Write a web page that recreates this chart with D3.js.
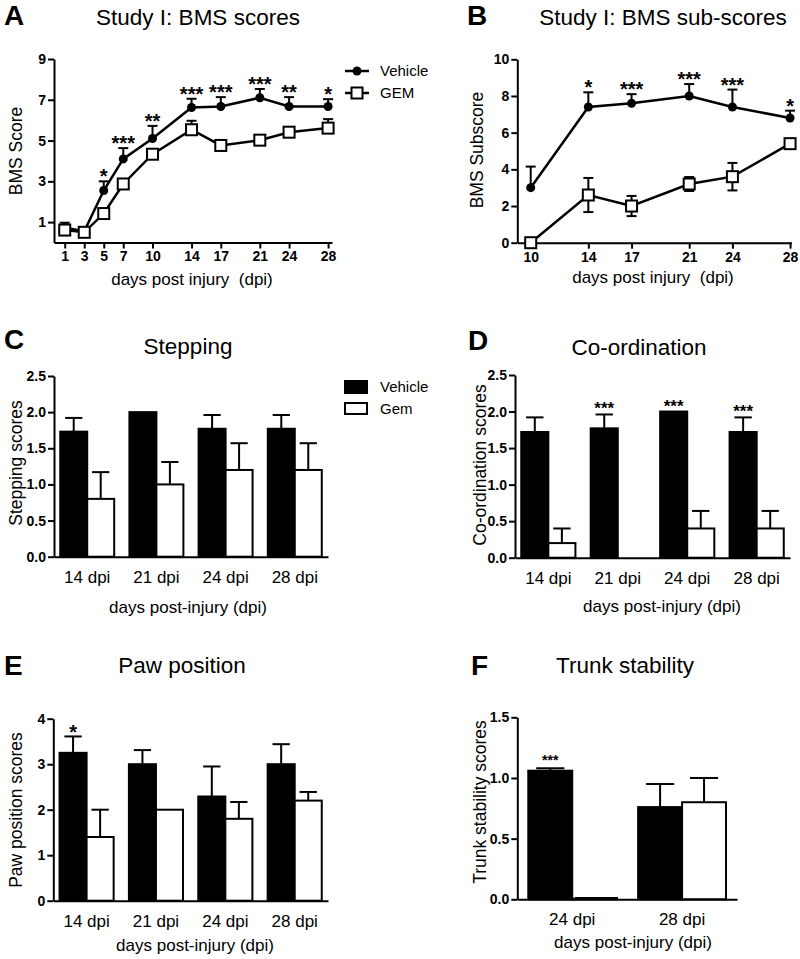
<!DOCTYPE html>
<html>
<head>
<meta charset="utf-8">
<script src="https://cdn.jsdelivr.net/npm/d3@7"></script>
<style>
  body { margin: 0; background: #fff; }
  text { font-family: "Liberation Sans", Arial, Helvetica, sans-serif; fill: #000; }
</style>
</head>
<body>
<svg id="fig" width="800" height="959"></svg>
<script>
// ---- data ----
// A: BMS scores
const daysA = [1, 3, 5, 7, 10, 14, 17, 21, 24, 28];
const vehA = [0.73, 0.55, 2.55, 4.1, 5.1, 6.62, 6.67, 7.1, 6.67, 6.67];
const vehAErr = [0.24, 0, 0.45, 0.53, 0.62, 0.43, 0.46, 0.43, 0.46, 0.36];
const gemA = [0.61, 0.5, 1.42, 2.87, 4.33, 5.53, 4.76, 5.02, 5.41, 5.61];
const gemAErr = [0, 0, 0.08, 0.23, 0.12, 0.44, 0.23, 0, 0.09, 0.44];
const starsA = ["", "", "*", "***", "**", "***", "***", "***", "**", "*"];
const ticksA = [1, 3, 5, 7, 9];

// B: BMS sub-scores
const daysB = [10, 14, 17, 21, 24, 28];
const vehB = [3.0, 7.4, 7.6, 8.0, 7.4, 6.8];
const vehBErr = [1.15, 0.8, 0.5, 0.65, 0.95, 0.4];
const gemB = [0, 2.6, 2.0, 3.2, 3.6, 5.4];
const gemBErr = [0, 0.93, 0.55, 0.38, 0.75, 0.1];
const starsB = ["", "*", "***", "***", "***", "*"];
const ticksB = [0, 2, 4, 6, 8, 10];

// bar panels
const dpi4 = ["14 dpi", "21 dpi", "24 dpi", "28 dpi"];
const dpi2 = ["24 dpi", "28 dpi"];

const vehStep = [1.73, 2.0, 1.77, 1.77];
const vehStepErr = [0.19, 0, 0.19, 0.19];
const gemStep = [0.8, 1.0, 1.2, 1.2];
const gemStepErr = [0.37, 0.31, 0.37, 0.37];

const vehCoord = [1.72, 1.77, 2.0, 1.72];
const vehCoordErr = [0.2, 0.19, 0, 0.2];
const gemCoord = [0.2, 0, 0.4, 0.4];
const gemCoordErr = [0.2, 0, 0.24, 0.24];
const starsCoord = ["", "***", "***", "***"];

const vehPaw = [3.25, 3.0, 2.29, 3.0];
const vehPawErr = [0.36, 0.31, 0.66, 0.44];
const gemPaw = [1.4, 2.0, 1.8, 2.2];
const gemPawErr = [0.6, 0, 0.37, 0.19];
const starsPaw = ["*", "", "", ""];

const vehTrunk = [1.06, 0.76];
const vehTrunkErr = [0.02, 0.19];
const gemTrunk = [0.005, 0.8];
const gemTrunkErr = [0, 0.2];
const starsTrunk = ["***", ""];

const svg = d3.select("#fig");

function styleAxis(g) {
  g.attr("font-size", null).attr("font-family", null);
  g.select(".domain").attr("stroke", "#000").attr("stroke-width", 2);
  g.selectAll(".tick line").attr("stroke", "#000").attr("stroke-width", 2);
  g.selectAll(".tick text")
    .style("font-size", "14px")
    .style("font-weight", "bold");
}

function label(txt, x, y, size, opts = {}) {
  const t = svg.append("text")
    .attr("x", x).attr("y", y)
    .attr("font-size", size)
    .attr("text-anchor", opts.anchor || "middle")
    .text(txt);
  if (opts.bold) t.attr("font-weight", "bold");
  return t;
}

function yLabel(txt, x, y) {
  svg.append("text")
    .attr("transform", `translate(${x},${y}) rotate(-90)`)
    .attr("text-anchor", "middle")
    .attr("font-size", 17.5)
    .text(txt);
}

// ---- line panels ----
function linePanel(o) {
  const x = d3.scaleLinear().domain(o.xDomain).range(o.xRange);
  const y = d3.scaleLinear().domain(o.yDomain).range(o.yRange);
  const g = svg.append("g");

  g.append("g")
    .attr("transform", `translate(0,${o.yRange[0]})`)
    .call(d3.axisBottom(x).tickValues(o.days).tickSize(6).tickSizeOuter(0).tickPadding(3))
    .call(styleAxis);
  g.append("g")
    .attr("transform", `translate(${o.xRange[0]},0)`)
    .call(d3.axisLeft(y).tickValues(o.yTicks).tickSize(6).tickSizeOuter(0).tickPadding(2))
    .call(styleAxis);

  o.series.forEach((s) => {
    const pts = o.days.map((d, i) => ({ d, v: s.values[i], e: s.err[i] }));
    const eb = g.append("g").attr("stroke", "#000").attr("stroke-width", 2);
    pts.filter((p) => p.e > 0).forEach((p) => {
      const lo = s.both ? p.v - p.e : p.v;
      eb.append("line").attr("x1", x(p.d)).attr("x2", x(p.d))
        .attr("y1", y(lo)).attr("y2", y(p.v + p.e));
      eb.append("line").attr("x1", x(p.d) - 5).attr("x2", x(p.d) + 5)
        .attr("y1", y(p.v + p.e)).attr("y2", y(p.v + p.e));
      if (s.both) {
        eb.append("line").attr("x1", x(p.d) - 5).attr("x2", x(p.d) + 5)
          .attr("y1", y(lo)).attr("y2", y(lo));
      }
    });
    g.append("path")
      .datum(pts)
      .attr("fill", "none")
      .attr("stroke", "#000")
      .attr("stroke-width", 2.5)
      .attr("d", d3.line().x((p) => x(p.d)).y((p) => y(p.v)));
    if (s.marker === "circle") {
      g.selectAll(null).data(pts).join("circle")
        .attr("cx", (p) => x(p.d)).attr("cy", (p) => y(p.v))
        .attr("r", 4.5).attr("fill", "#000");
    } else {
      g.selectAll(null).data(pts).join("rect")
        .attr("x", (p) => x(p.d) - 5.5).attr("y", (p) => y(p.v) - 5.5)
        .attr("width", 11).attr("height", 11)
        .attr("fill", "#fff").attr("stroke", "#000").attr("stroke-width", 2);
    }
  });

  const top = o.series[0];
  g.selectAll(null).data(o.days).join("text")
    .attr("x", (d) => x(d))
    .attr("y", (d, i) => y(top.values[i] + top.err[i]) + 2)
    .attr("text-anchor", "middle")
    .attr("font-size", 20)
    .attr("font-weight", "bold")
    .text((d, i) => o.stars[i]);
}

linePanel({
  days: daysA, xDomain: [-0.1, 28.4], xRange: [54, 332],
  yDomain: [0, 9], yRange: [242.5, 59], yTicks: ticksA,
  series: [
    { values: vehA, err: vehAErr, marker: "circle" },
    { values: gemA, err: gemAErr, marker: "square" },
  ],
  stars: starsA,
});

linePanel({
  days: daysB, xDomain: [9.07, 28.1], xRange: [517.3, 791.5],
  yDomain: [0, 10], yRange: [242.7, 59.3], yTicks: ticksB,
  series: [
    { values: vehB, err: vehBErr, marker: "circle" },
    { values: gemB, err: gemBErr, marker: "square", both: true },
  ],
  stars: starsB,
});

// ---- bar panels ----
function barPanel(o) {
  const x0 = d3.scaleBand().domain(o.cats).range(o.xRange)
    .paddingInner(o.padIn).paddingOuter(o.padOut);
  const x1 = d3.scaleBand().domain(["veh", "gem"]).range([0, x0.bandwidth()]);
  const y = d3.scaleLinear().domain(o.yDomain).range(o.yRange);
  const g = svg.append("g");

  const groups = [
    { key: "veh", values: o.veh, err: o.vehErr, fill: "#000" },
    { key: "gem", values: o.gem, err: o.gemErr, fill: "#fff" },
  ];

  groups.forEach((s) => {
    const bw = x1.bandwidth();
    const eb = g.append("g").attr("stroke", "#000").attr("stroke-width", 2);
    o.cats.forEach((c, i) => {
      if (s.err[i] <= 0) return;
      const cx = x0(c) + x1(s.key) + bw / 2;
      eb.append("line").attr("x1", cx).attr("x2", cx)
        .attr("y1", y(s.values[i])).attr("y2", y(s.values[i] + s.err[i]));
      eb.append("line").attr("x1", cx - bw * 0.32).attr("x2", cx + bw * 0.32)
        .attr("y1", y(s.values[i] + s.err[i])).attr("y2", y(s.values[i] + s.err[i]));
    });
    g.selectAll(null).data(o.cats).join("rect")
      .attr("x", (c) => x0(c) + x1(s.key))
      .attr("y", (c, i) => y(s.values[i]))
      .attr("width", x1.bandwidth())
      .attr("height", (c, i) => y(0) - y(s.values[i]))
      .attr("fill", s.fill)
      .attr("stroke", "#000")
      .attr("stroke-width", 2)
      .attr("display", (c, i) => (s.values[i] > 0 ? null : "none"));
  });

  g.append("g")
    .attr("transform", `translate(0,${o.yRange[0]})`)
    .call(d3.axisBottom(x0).tickSize(0).tickSizeOuter(0).tickPadding(o.tickPad))
    .call(styleAxis)
    .call((a) => a.selectAll(".tick text").style("font-size", "17px").style("font-weight", "normal"));
  g.append("g")
    .attr("transform", `translate(${o.xRange[0]},0)`)
    .call(d3.axisLeft(y).tickValues(o.yTicks).tickFormat(d3.format(o.fmt)).tickSize(6).tickSizeOuter(0).tickPadding(2))
    .call(styleAxis);

  if (o.stars) {
    const bw = x1.bandwidth();
    g.selectAll(null).data(o.cats).join("text")
      .attr("x", (c) => x0(c) + x1("veh") + bw / 2)
      .attr("y", (c, i) => y(o.veh[i] + o.vehErr[i]) + o.starShift)
      .attr("text-anchor", "middle")
      .attr("font-size", o.starSize)
      .attr("font-weight", "bold")
      .text((c, i) => o.stars[i]);
  }
}

barPanel({
  cats: dpi4, xRange: [54, 328], padIn: 0.22, padOut: 0.09, tickPad: 14,
  yDomain: [0, 2.5], yRange: [556.7, 376], yTicks: [0, 0.5, 1, 1.5, 2, 2.5], fmt: ".1f",
  veh: vehStep, vehErr: vehStepErr, gem: gemStep, gemErr: gemStepErr,
});

barPanel({
  cats: dpi4, xRange: [515, 790], padIn: 0.22, padOut: 0.09, tickPad: 14,
  yDomain: [0, 2.5], yRange: [557.7, 375], yTicks: [0, 0.5, 1, 1.5, 2, 2.5], fmt: ".1f",
  veh: vehCoord, vehErr: vehCoordErr, gem: gemCoord, gemErr: gemCoordErr,
  stars: starsCoord, starSize: 17, starShift: 0,
});

barPanel({
  cats: dpi4, xRange: [53.3, 328], padIn: 0.22, padOut: 0.09, tickPad: 14,
  yDomain: [0, 4], yRange: [900.7, 718.7], yTicks: [0, 1, 2, 3, 4], fmt: "d",
  veh: vehPaw, vehErr: vehPawErr, gem: gemPaw, gemErr: gemPawErr,
  stars: starsPaw, starSize: 20, starShift: 2.5,
});

barPanel({
  cats: dpi2, xRange: [517.3, 737], padIn: 0.2, padOut: 0.1, tickPad: 14,
  yDomain: [0, 1.5], yRange: [899.3, 717.3], yTicks: [0, 0.5, 1, 1.5], fmt: ".1f",
  veh: vehTrunk, vehErr: vehTrunkErr, gem: gemTrunk, gemErr: gemTrunkErr,
  stars: starsTrunk, starSize: 14, starShift: -3,
});
// trunk stability: GEM at 24 dpi sits on the axis as a thin bar
svg.append("line").attr("x1", 575).attr("x2", 618).attr("y1", 898.5).attr("y2", 898.5)
  .attr("stroke", "#000").attr("stroke-width", 3);

// ---- panel letters and titles ----
label("A", 4, 25, 28, { anchor: "start", bold: true });
label("Study I: BMS scores", 198, 25, 22.5);
label("B", 467, 25, 28, { anchor: "start", bold: true });
label("Study I: BMS sub-scores", 663, 25, 22.5);
label("C", 4, 349, 28, { anchor: "start", bold: true });
label("Stepping", 188, 354, 22.5);
label("D", 468, 350, 28, { anchor: "start", bold: true });
label("Co-ordination", 639, 355, 22.5);
label("E", 4, 675, 28, { anchor: "start", bold: true });
label("Paw position", 182, 673, 22.5);
label("F", 471, 675, 28, { anchor: "start", bold: true });
label("Trunk stability", 625, 673, 22.5);

// ---- axis titles ----
yLabel("BMS Score", 22, 151);
label("days post injury  (dpi)", 192, 285, 17).style("white-space", "pre");
yLabel("BMS Subscore", 483, 150);
label("days post injury  (dpi)", 653, 283, 17).style("white-space", "pre");
yLabel("Stepping scores", 22, 463);
label("days post-injury (dpi)", 188, 613, 17);
yLabel("Co-ordination scores", 486, 465);
label("days post-injury (dpi)", 662, 612, 17);
yLabel("Paw position scores", 22, 810);
label("days post-injury (dpi)", 195, 951, 17);
yLabel("Trunk stability scores", 486, 802);
label("days post-injury (dpi)", 633, 948, 17);

// ---- legends ----
const legA = svg.append("g");
legA.append("line").attr("x1", 345).attr("x2", 369).attr("y1", 71).attr("y2", 71)
  .attr("stroke", "#000").attr("stroke-width", 2.5);
legA.append("circle").attr("cx", 357).attr("cy", 71).attr("r", 4.5).attr("fill", "#000");
legA.append("line").attr("x1", 345).attr("x2", 369).attr("y1", 93).attr("y2", 93)
  .attr("stroke", "#000").attr("stroke-width", 2.5);
legA.append("rect").attr("x", 351.5).attr("y", 87.5).attr("width", 11).attr("height", 11)
  .attr("fill", "#fff").attr("stroke", "#000").attr("stroke-width", 2);
label("Vehicle", 380, 76, 15, { anchor: "start" });
label("GEM", 380, 98, 15, { anchor: "start" });

const legC = svg.append("g");
legC.append("rect").attr("x", 345).attr("y", 381).attr("width", 22).attr("height", 12)
  .attr("fill", "#000").attr("stroke", "#000").attr("stroke-width", 2);
legC.append("rect").attr("x", 345).attr("y", 403).attr("width", 22).attr("height", 11)
  .attr("fill", "#fff").attr("stroke", "#000").attr("stroke-width", 2);
label("Vehicle", 380, 392, 15, { anchor: "start" });
label("Gem", 380, 414, 15, { anchor: "start" });
</script>
</body>
</html>
